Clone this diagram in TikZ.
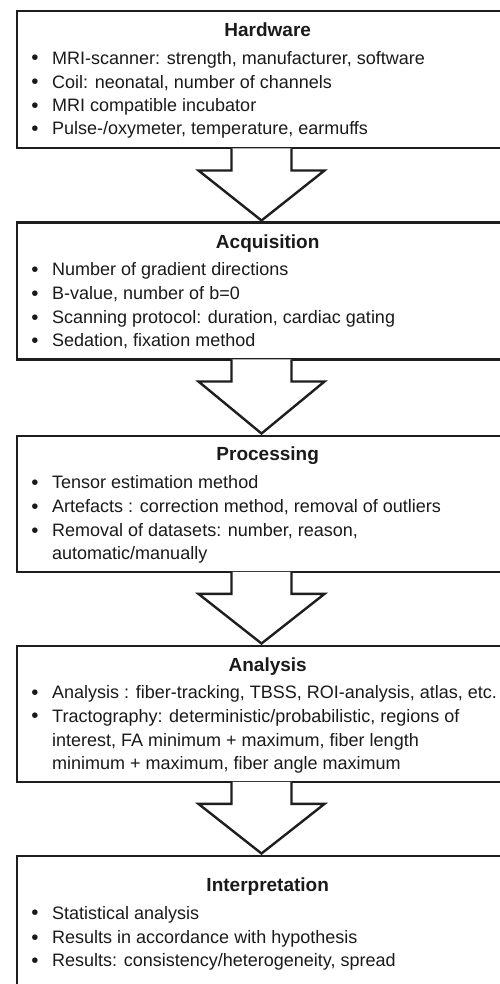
\documentclass[tikz,border=0pt]{standalone}
\usepackage{fontspec}
\setmainfont{Liberation Sans}
\usetikzlibrary{calc}
\definecolor{ink}{HTML}{1E1E1E}
\definecolor{txt}{HTML}{1A1A1A}
\newcommand\stagearrow[2]{%
  \filldraw[flow] ($(#1.south -| ax)+(-30,-1.15)$) -- ($(#1.south -| ax)+(-30,21)$)
    -- ($(#1.south -| ax)+(-63,21)$) -- ($(#2.north -| ax)+(0,-1)$)
    -- ($(#1.south -| ax)+(63,21)$) -- ($(#1.south -| ax)+(30,21)$)
    -- ($(#1.south -| ax)+(30,-1.15)$);}
\begin{document}
\begin{tikzpicture}[x=1pt,y=-1pt,
  stagebox/.style={draw=ink, line width=2.4pt, inner sep=0pt, minimum width=501.4pt},
  title/.style={anchor=base, inner sep=0pt, font=\fontsize{19}{22}\selectfont\bfseries, text=txt},
  item/.style={anchor=base west, inner sep=0pt, font=\fontsize{18}{22}\selectfont, text=txt},
  dot/.style={anchor=base, inner sep=0pt, yshift=-0.7pt, font=\fontsize{20.5}{22}\selectfont, text=txt},
  flow/.style={draw=ink, fill=white, line width=2.4pt, line join=miter}]
\useasboundingbox (0,0) rectangle (500,984);
\clip (0,0) rectangle (500,984);
\fill[white] (0,0) rectangle (500,984);
\coordinate (ax) at (261.5,0);

% boxes
\node[stagebox, minimum height=137pt]   (hw)  at (267.7,79.8)  {};
\node[stagebox, minimum height=136.6pt] (acq) at (267.7,291)   {};
\node[stagebox, minimum height=136pt]   (proc) at (267.7,503.7) {};
\node[stagebox, minimum height=136pt]   (ana) at (267.7,713.7) {};
\node[stagebox, minimum height=144.3pt] (intp) at (267.7,927.85) {};

% arrows
\stagearrow{hw}{acq}
\stagearrow{acq}{proc}
\stagearrow{proc}{ana}
\stagearrow{ana}{intp}

% Hardware
\node[title] (hwT) at (267.7,36.7) {Hardware};
\node[dot] (hwd1) at (35,64.3) {\textbullet};
\node[item] (hw1) at (52,64.3) {MRI-scanner: strength, manufacturer, software};
\node[dot] (hwd2) at (35,88.3) {\textbullet};
\node[item] (hw2) at (52,88.3) {Coil: neonatal, number of channels};
\node[dot] (hwd3) at (35,111.7) {\textbullet};
\node[item] (hw3) at (52,111.7) {MRI compatible incubator};
\node[dot] (hwd4) at (35,135) {\textbullet};
\node[item] (hw4) at (52,135) {Pulse-/oxymeter, temperature, earmuffs};

% Acquisition
\node[title] (acqT) at (267.7,248.3) {Acquisition};
\node[dot] (acqd1) at (35,275.7) {\textbullet};
\node[item] (acq1) at (52,275.7) {Number of gradient directions};
\node[dot] (acqd2) at (35,299.3) {\textbullet};
\node[item] (acq2) at (52,299.3) {B-value, number of b=0};
\node[dot] (acqd3) at (35,323.3) {\textbullet};
\node[item] (acq3) at (52,323.3) {Scanning protocol: duration, cardiac gating};
\node[dot] (acqd4) at (35,346.7) {\textbullet};
\node[item] (acq4) at (52,346.7) {Sedation, fixation method};

% Processing
\node[title] (procT) at (267.7,460.7) {Processing};
\node[dot] (procd1) at (35,488.3) {\textbullet};
\node[item] (proc1) at (52,488.3) {Tensor estimation method};
\node[dot] (procd2) at (35,512.7) {\textbullet};
\node[item] (proc2) at (52,512.7) {Artefacts : correction method, removal of outliers};
\node[dot] (procd3) at (35,536.7) {\textbullet};
\node[item] (proc3) at (52,536.7) {Removal of datasets: number, reason,};
\node[item] (proc3b) at (52,559.3) {automatic/manually};

% Analysis
\node[title] (anaT) at (267.7,671.7) {Analysis};
\node[dot] (anad1) at (35,698.3) {\textbullet};
\node[item] (ana1) at (52,698.3) {Analysis : fiber-tracking, TBSS, ROI-analysis, atlas, etc.};
\node[dot] (anad2) at (35,722) {\textbullet};
\node[item] (ana2) at (52,722) {Tractography: deterministic/probabilistic, regions of};
\node[item] (ana2b) at (52,746) {interest, FA minimum + maximum, fiber length};
\node[item] (ana2c) at (52,769.3) {minimum + maximum, fiber angle maximum};

% Interpretation
\node[title] (intpT) at (267.7,891.7) {Interpretation};
\node[dot] (intpd1) at (35,919) {\textbullet};
\node[item] (intp1) at (52,919) {Statistical analysis};
\node[dot] (intpd2) at (35,943.3) {\textbullet};
\node[item] (intp2) at (52,943.3) {Results in accordance with hypothesis};
\node[dot] (intpd3) at (35,966.7) {\textbullet};
\node[item] (intp3) at (52,966.7) {Results: consistency/heterogeneity, spread};
\end{tikzpicture}
\end{document}
